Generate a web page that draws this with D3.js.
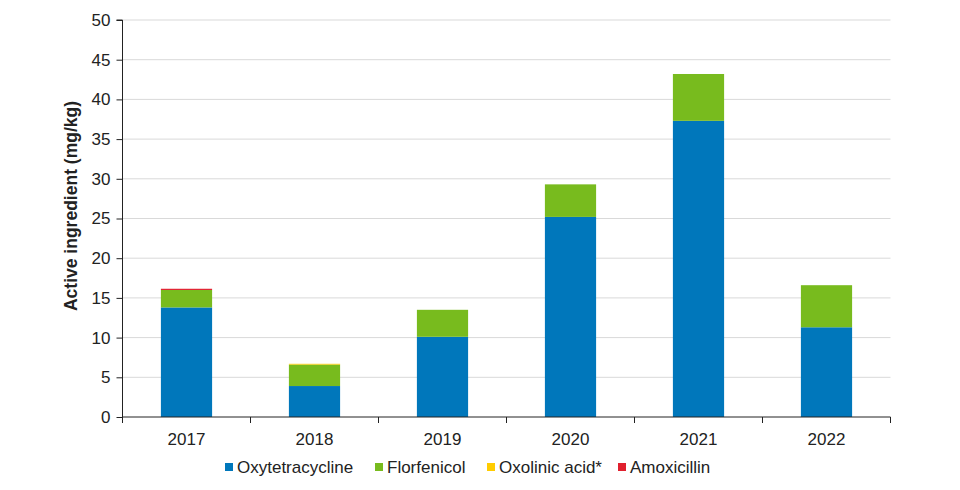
<!DOCTYPE html>
<html>
<head>
<meta charset="utf-8">
<script src="https://cdn.jsdelivr.net/npm/d3@7"></script>
<style>
  body { margin: 0; background: #fff; }
  svg text { font-family: "Liberation Sans", Arial, sans-serif; fill: #222; }
</style>
</head>
<body>
<svg id="chart" width="960" height="490"></svg>
<script>
//stacked bars, one per year
var years = ["2017", "2018", "2019", "2020", "2021", "2022"];
var seriesNames = ["Oxytetracycline", "Florfenicol", "Oxolinic acid*", "Amoxicillin"];
var oxytetracycline = [13.8, 3.9, 10.1, 25.2, 37.3, 11.3];
var florfenicol = [2.2, 2.7, 3.4, 4.1, 5.9, 5.3];
var oxolinic = [0, 0.1, 0, 0, 0, 0];
var amoxicillin = [0.15, 0, 0, 0, 0, 0];
var colors = ["#0077bb", "#78bb1e", "#ffcc00", "#e0202e"];
var yTicks = [0, 5, 10, 15, 20, 25, 30, 35, 40, 45, 50];

var rows = years.map((y, i) => ({
  year: y,
  "Oxytetracycline": oxytetracycline[i],
  "Florfenicol": florfenicol[i],
  "Oxolinic acid*": oxolinic[i],
  "Amoxicillin": amoxicillin[i]
}));

var svg = d3.select("#chart");
var pLeft = 122.5, pRight = 890.5, pTop = 20, pBottom = 417;

var x = d3.scaleBand().domain(years).range([pLeft, pRight]).paddingInner(0.6).paddingOuter(0.3);
var y = d3.scaleLinear().domain([0, 50]).range([pBottom, pTop]);

//gridlines
svg.append("g").selectAll("line").data(yTicks.slice(1)).enter().append("line")
  .attr("x1", pLeft).attr("x2", pRight)
  .attr("y1", d => y(d)).attr("y2", d => y(d))
  .attr("stroke", "#d9d9d9").attr("stroke-width", 1);

//bars
var stack = d3.stack().keys(seriesNames)(rows);
svg.append("g").selectAll("g").data(stack).enter().append("g")
  .attr("fill", (d, i) => colors[i])
  .selectAll("rect").data(d => d).enter().append("rect")
  .attr("x", d => x(d.data.year))
  .attr("width", x.bandwidth())
  .attr("y", d => y(d[1]))
  .attr("height", d => y(d[0]) - y(d[1]));

//y axis
var yAxis = d3.axisLeft(y).tickValues(yTicks).tickSize(6).tickPadding(6);
var gy = svg.append("g").attr("transform", "translate(" + pLeft + ",0)").call(yAxis);
gy.select(".domain").attr("stroke", "#222").attr("d", "M-6," + y(50) + "H0V" + y(0));
gy.selectAll(".tick line").attr("stroke", "#222");
gy.selectAll("text").style("font-size", "17px").style("font-family", "Liberation Sans, Arial, sans-serif");

//x axis with ticks between categories
var step = x.step();
var gx = svg.append("g").attr("transform", "translate(0," + pBottom + ")");
gx.append("line").attr("x1", pLeft).attr("x2", pRight).attr("stroke", "#222");
var bounds = d3.range(years.length + 1).map(i => pLeft + i * step);
gx.selectAll(".tk").data(bounds).enter().append("line")
  .attr("x1", d => d).attr("x2", d => d).attr("y1", 0).attr("y2", 6).attr("stroke", "#222");
gx.selectAll("text").data(years).enter().append("text")
  .attr("x", d => x(d) + x.bandwidth() / 2)
  .attr("y", 28)
  .attr("text-anchor", "middle")
  .style("font-size", "17px")
  .text(d => d);

//y label
svg.append("text")
  .attr("transform", "translate(77,206) rotate(-90)")
  .attr("text-anchor", "middle")
  .style("font-size", "17.5px")
  .style("font-weight", "bold")
  .text("Active ingredient (mg/kg)");

//legend
var legendX = [225, 375, 487, 618];
var lg = svg.append("g").selectAll("g").data(seriesNames).enter().append("g")
  .attr("transform", (d, i) => "translate(" + legendX[i] + ",467)");
lg.append("rect").attr("x", 0).attr("y", -4).attr("width", 8).attr("height", 8)
  .attr("fill", (d, i) => colors[i]);
lg.append("text").attr("x", 12).attr("y", 0).attr("dy", "0.36em")
  .style("font-size", "17px").text(d => d);
</script>
</body>
</html>
